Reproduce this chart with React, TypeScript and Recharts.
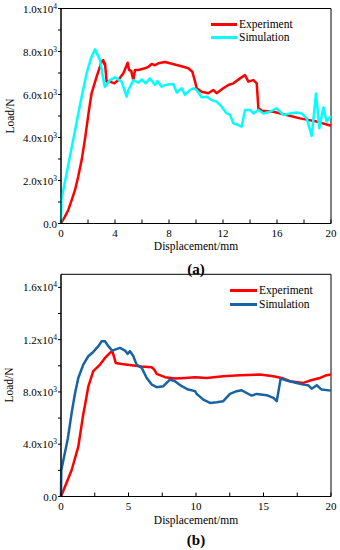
import React from "react";
import { LineChart, Line, XAxis, YAxis, ReferenceArea, Legend } from "recharts";

const FONT = '"Liberation Serif", "Times New Roman", serif';

// ---- Panel (a) data ----
const expAX = [0, 0.29, 0.54, 0.79, 1.04, 1.28, 1.53, 1.78, 2.0, 2.15, 2.27, 2.64, 3.01, 3.13, 3.22, 3.26, 3.38, 3.63, 3.95, 4.25, 4.62, 4.94, 5.04, 5.2, 5.36, 5.48, 5.73, 6.22, 6.5, 6.72, 6.95, 7.21, 7.7, 8.07, 8.57, 9.06, 9.43, 9.73, 9.93, 10.05, 10.42, 10.91, 11.28, 11.53, 12.02, 12.4, 12.77, 13.26, 13.63, 13.88, 14.25, 14.5, 14.62, 14.87, 15.73, 16.72, 17.7, 18.94, 20];
const expAY = [0, 320, 630, 1090, 1560, 2200, 2950, 3950, 4950, 5600, 6060, 6830, 7530, 7600, 7400, 7450, 6600, 6600, 6520, 6670, 6990, 7480, 7140, 7100, 6670, 7140, 7140, 7220, 7300, 7420, 7360, 7450, 7510, 7450, 7370, 7290, 7220, 7060, 6600, 6290, 6130, 6060, 6210, 6060, 6290, 6440, 6520, 6750, 6900, 6600, 6670, 6520, 5360, 5250, 5200, 5050, 4890, 4740, 4550];
const simAX = [0, 0.03, 0.5, 1.0, 1.48, 1.9, 2.22, 2.52, 2.89, 3.21, 3.26, 3.63, 4.0, 4.49, 4.86, 4.99, 5.36, 5.73, 5.98, 6.27, 6.59, 6.96, 7.14, 7.46, 7.7, 7.95, 8.32, 8.57, 8.94, 9.19, 9.56, 9.8, 10.05, 10.42, 10.79, 11.16, 11.53, 11.9, 12.27, 12.52, 12.77, 13.14, 13.38, 13.63, 14.0, 14.25, 14.62, 14.99, 15.48, 15.98, 16.47, 16.96, 17.46, 17.83, 18.2, 18.57, 18.89, 19.14, 19.43, 19.68, 20];
const simAY = [0, 1100, 2600, 4200, 5740, 7000, 7680, 8100, 7600, 6440, 6360, 6670, 6800, 6600, 5900, 6200, 6670, 6550, 6700, 6520, 6750, 6440, 6630, 6360, 6440, 6470, 6490, 6090, 6290, 5980, 6210, 6290, 6210, 5870, 5900, 5740, 5670, 5430, 5120, 5050, 4660, 4580, 4500, 5280, 5280, 5120, 5280, 5120, 5200, 5360, 5050, 5120, 5160, 5120, 4890, 4070, 6050, 4430, 5400, 4740, 5000];

// ---- Panel (b) data ----
const expBX = [0, 0.79, 1.28, 1.65, 1.78, 2.02, 2.39, 2.89, 3.26, 3.63, 3.8, 3.95, 4.05, 4.5, 5.24, 5.98, 6.72, 6.91, 7.09, 7.7, 8.44, 9.19, 9.93, 10.79, 12.02, 13.26, 14.74, 15.73, 16.35, 16.96, 17.95, 18.44, 19.19, 19.68, 20];
const expBY = [0, 2030, 3810, 6300, 7000, 8400, 9590, 10090, 10600, 10990, 11120, 10600, 10220, 10140, 10040, 9940, 9890, 9710, 9380, 9130, 9020, 9070, 9130, 9070, 9200, 9280, 9330, 9200, 9070, 8820, 8690, 8870, 9070, 9280, 9330];
const simBX = [0, 0.02, 0.5, 0.79, 1.04, 1.28, 1.65, 2.02, 2.39, 2.77, 3.01, 3.26, 3.5, 3.8, 4.0, 4.37, 4.74, 4.94, 5.11, 5.36, 5.6, 5.98, 6.35, 6.72, 7.09, 7.58, 8.07, 8.44, 8.94, 9.43, 9.93, 10.05, 10.54, 11.04, 11.53, 12.02, 12.52, 13.01, 13.38, 13.75, 14.12, 14.5, 15.24, 15.73, 15.98, 16.27, 16.72, 17.46, 17.95, 18.32, 18.57, 18.94, 19.31, 20];
const simBY = [0, 2000, 4400, 6400, 7900, 9070, 10090, 10730, 11060, 11500, 11880, 11880, 11500, 11160, 11240, 11370, 11160, 10910, 11120, 10730, 10090, 9840, 9070, 8560, 8360, 8440, 8940, 8820, 8440, 8180, 8060, 7850, 7410, 7160, 7210, 7290, 7850, 8060, 8130, 7920, 7720, 7850, 7750, 7540, 7290, 9020, 8870, 8690, 8560, 8510, 8250, 8510, 8180, 8100];

// ---- Ticks ----
const xTicksA = [0, 2, 4, 6, 8, 10, 12, 14, 16, 18, 20];
const yTicksA = [0, 1000, 2000, 3000, 4000, 5000, 6000, 7000, 8000, 9000, 10000];
const xTicksB = [0, 2.5, 5, 7.5, 10, 12.5, 15, 17.5, 20];
const yTicksB = [0, 2000, 4000, 6000, 8000, 10000, 12000, 14000, 16000];

const toPts = (xs: number[], ys: number[]) => xs.map((x, i) => ({ x, y: ys[i] }));

const makeYTick = (major: number) => (props: any) => {
  const { x, y, payload } = props;
  const v = payload.value as number;
  const isMajor = v % major === 0;
  let main = "0.0";
  let exp = "";
  if (v !== 0) {
    const e = Math.floor(Math.log10(v));
    main = (v / Math.pow(10, e)).toFixed(1) + "x10";
    exp = String(e);
  }
  return (
    <g>
      <line x1={x - 3} x2={x} y1={y} y2={y} stroke="#000" strokeWidth={1} />
      {isMajor && (
        <text x={x - 4} y={y} dy={4} textAnchor="end" fontSize={11} fontFamily={FONT} fill="#000">
          <tspan>{main}</tspan>
          {exp && (
            <tspan dy={-4} fontSize={7.5}>
              {exp}
            </tspan>
          )}
        </text>
      )}
    </g>
  );
};

const makeXTick = (major: number) => (props: any) => {
  const { x, y, payload } = props;
  const v = payload.value as number;
  const isMajor = Math.abs(v / major - Math.round(v / major)) < 1e-6;
  return (
    <g>
      <line x1={x} x2={x} y1={y} y2={y - 4} stroke="#000" strokeWidth={1} />
      {isMajor && (
        <text x={x} y={y + 13.5} textAnchor="middle" fontSize={11} fontFamily={FONT} fill="#000">
          {v}
        </text>
      )}
    </g>
  );
};

const makeLegend = (items: { label: string; color: string }[], lineW: number, rowH: number) => () => (
  <div style={{ fontFamily: FONT, fontSize: 11.5, color: "#000" }}>
    {items.map((it) => (
      <div key={it.label} style={{ display: "flex", alignItems: "center", height: rowH, whiteSpace: "nowrap" }}>
        <span style={{ display: "inline-block", width: lineW, height: 3, background: it.color, marginRight: 2 }} />
        <span style={{ lineHeight: rowH + "px" }}>{it.label}</span>
      </div>
    ))}
  </div>
);

const RED = "#ff0000";
const CYAN = "#00ffff";
const BLUE = "#1764a4";

const abs = (left: number, top: number, extra: React.CSSProperties = {}): React.CSSProperties => ({
  position: "absolute",
  left,
  top,
  transform: "translate(-50%, -50%)",
  whiteSpace: "nowrap",
  fontFamily: FONT,
  fontSize: 11.5,
  color: "#000",
  ...extra,
});

export default function App() {
  const expA = toPts(expAX, expAY);
  const simA = toPts(simAX, simAY);
  const expB = toPts(expBX, expBY);
  const simB = toPts(simBX, simBY);

  return (
    <div style={{ position: "absolute", left: 0, top: 0, width: 340, height: 550, background: "#fff", overflow: "hidden" }}>
      <div style={{ position: "absolute", left: 0, top: 0 }}>
        <LineChart width={340} height={280} margin={{ top: 8.5, right: 9, bottom: 26.5, left: 0 }}>
          <XAxis
            dataKey="x"
            type="number"
            domain={[0, 20]}
            ticks={xTicksA}
            interval={0}
            height={30}
            tickSize={0}
            tickMargin={0}
            tickLine={false}
            axisLine={{ stroke: "#000" }}
            tick={makeXTick(4)}
          />
          <YAxis
            type="number"
            domain={[0, 10000]}
            ticks={yTicksA}
            interval={0}
            width={61}
            tickSize={0}
            tickMargin={0}
            tickLine={false}
            axisLine={{ stroke: "#000" }}
            tick={makeYTick(2000)}
          />
          <ReferenceArea x1={0} x2={20} y1={0} y2={10000} fill="none" stroke="#000" strokeWidth={1} />
          <Line data={expA} dataKey="y" type="linear" stroke={RED} strokeWidth={2.5} dot={false} isAnimationActive={false} strokeLinejoin="round" />
          <Line data={simA} dataKey="y" type="linear" stroke={CYAN} strokeWidth={2.5} dot={false} isAnimationActive={false} strokeLinejoin="round" />
          <Legend
            layout="horizontal"
            verticalAlign="middle"
            align="center"
            wrapperStyle={{ left: 211, top: 17.5, width: "auto" }}
            content={makeLegend([{ label: "Experiment", color: RED }, { label: "Simulation", color: CYAN }], 26, 13)}
          />
        </LineChart>
      </div>
      <div style={{ position: "absolute", left: 0, top: 265 }}>
        <LineChart width={340} height={285} margin={{ top: 9.3, right: 9, bottom: 23.5, left: 0 }}>
          <XAxis
            dataKey="x"
            type="number"
            domain={[0, 20]}
            ticks={xTicksB}
            interval={0}
            height={30}
            tickSize={0}
            tickMargin={0}
            tickLine={false}
            axisLine={{ stroke: "#000" }}
            tick={makeXTick(5)}
          />
          <YAxis
            type="number"
            domain={[0, 17000]}
            ticks={yTicksB}
            interval={0}
            width={61}
            tickSize={0}
            tickMargin={0}
            tickLine={false}
            axisLine={{ stroke: "#000" }}
            tick={makeYTick(4000)}
          />
          <ReferenceArea x1={0} x2={20} y1={0} y2={17000} fill="none" stroke="#000" strokeWidth={1} />
          <Line data={expB} dataKey="y" type="linear" stroke={RED} strokeWidth={2.5} dot={false} isAnimationActive={false} strokeLinejoin="round" />
          <Line data={simB} dataKey="y" type="linear" stroke={BLUE} strokeWidth={2.5} dot={false} isAnimationActive={false} strokeLinejoin="round" />
          <Legend
            layout="horizontal"
            verticalAlign="middle"
            align="center"
            wrapperStyle={{ left: 230, top: 18, width: "auto" }}
            content={makeLegend([{ label: "Experiment", color: RED }, { label: "Simulation", color: BLUE }], 27, 14)}
          />
        </LineChart>
      </div>
      <div style={abs(10, 116, { transform: "translate(-50%, -50%) rotate(-90deg)" })}>Load/N</div>
      <div style={abs(196, 246)}>Displacement/mm</div>
      <div style={abs(196, 269, { fontSize: 15, fontWeight: "bold" })}>(a)</div>
      <div style={abs(9, 385, { transform: "translate(-50%, -50%) rotate(-90deg)" })}>Load/N</div>
      <div style={abs(196, 520)}>Displacement/mm</div>
      <div style={abs(196, 540, { fontSize: 15, fontWeight: "bold" })}>(b)</div>
    </div>
  );
}
